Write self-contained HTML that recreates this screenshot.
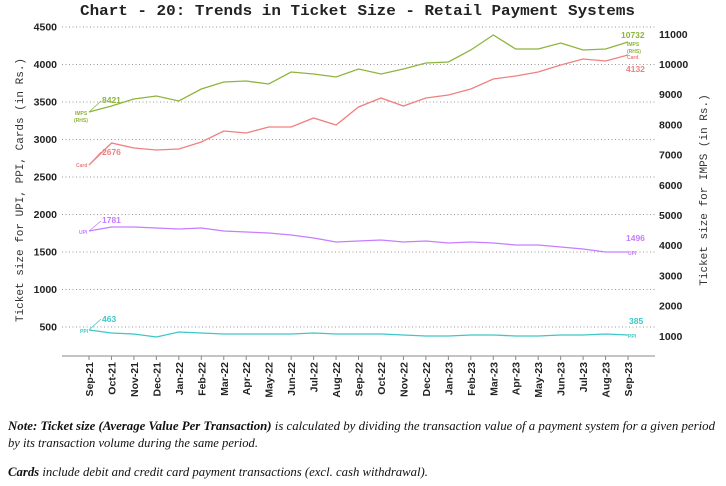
<!DOCTYPE html>
<html><head><meta charset="utf-8"><style>
body{margin:0;background:#fff;width:726px;height:486px;overflow:hidden}
svg{display:block}
.tk{font-family:"Liberation Sans",sans-serif;font-weight:bold;font-size:10.5px;fill:#222}
.mono{font-family:"Liberation Mono",monospace;font-size:11px;fill:#333}
.note{font-family:"Liberation Serif",serif;font-style:italic;font-size:12.5px;fill:#111}
</style></head><body>
<svg id="s" width="726" height="486" xmlns="http://www.w3.org/2000/svg">
<text x="80" y="15" font-family="Liberation Mono,monospace" font-weight="bold" font-size="15" fill="#222" textLength="555" lengthAdjust="spacingAndGlyphs">Chart - 20: Trends in Ticket Size - Retail Payment Systems</text>
<g id="g"></g>
<text transform="translate(23,190) rotate(-90)" text-anchor="middle" class="mono">Ticket size for UPI, PPI, Cards (in Rs.)</text>
<text transform="translate(707,190) rotate(-90)" text-anchor="middle" class="mono">Ticket size for IMPS (in Rs.)</text>
<text x="8" y="430" class="note" textLength="707" lengthAdjust="spacingAndGlyphs"><tspan font-weight="bold">Note: Ticket size (Average Value Per Transaction)</tspan> is calculated by dividing the transaction value of a payment system for a given period</text>
<text x="8" y="447" class="note" textLength="250" lengthAdjust="spacingAndGlyphs">by its transaction volume during the same period.</text>
<text x="8" y="476" class="note" textLength="420" lengthAdjust="spacingAndGlyphs"><tspan font-weight="bold">Cards</tspan> include debit and credit card payment transactions (excl. cash withdrawal).</text>
</svg>
<script>
var g=document.getElementById('g'),h='';
function X(i){return 89+i*22.46}
function L(v){return 27+(4500-v)/500*37.5}
for(var v=500;v<=4500;v+=500){var y=L(v);h+='<line x1="62" x2="655" y1="'+y+'" y2="'+y+'" stroke="#999" stroke-dasharray="1,2.5" stroke-width="1"/>';h+='<text class="tk" x="57" y="'+(y+3.5)+'" text-anchor="end">'+v+'</text>';}
for(var r=1000;r<=11000;r+=1000){var y=64.5+(10000-r)*0.0302;h+='<text class="tk" x="659" y="'+(y+3.5)+'">'+r+'</text>';}
h+='<line x1="62" x2="655" y1="356" y2="356" stroke="#888"/>';
var m=['Sep','Oct','Nov','Dec','Jan','Feb','Mar','Apr','May','Jun','Jul','Aug'];
for(var i=0;i<25;i++){var x=X(i);var mo=m[i%12];var yr=21+Math.floor((i+8)/12);h+='<line x1="'+x+'" x2="'+x+'" y1="356" y2="360" stroke="#888"/>';h+='<text class="tk" transform="translate('+(x+4)+',362) rotate(-90)" text-anchor="end">'+mo+'-'+yr+'</text>';}
function P(a,c){var p=a.map(function(y,i){return X(i).toFixed(1)+','+y}).join(' ');h+='<polyline points="'+p+'" fill="none" stroke="'+c+'" stroke-width="1.3"/>';}
P([112,106,99,96,101,89,82,81,84,72,74,77,69,74,69,63,62,50,35,49,49,43,50,49,42],'#8db53c');
P([165,143,148,150,149,142,131,133,127,127,118,125,107,98,106,98,95,89,79,76,72,65,59,61,55],'#f08080');
P([231,227,227,228,229,228,231,232,233,235,238,242,241,240,242,241,243,242,243,245,245,247,249,252,252],'#c77dff');
P([330,333,334,337,332,333,334,334,334,334,333,334,334,334,335,336,336,335,335,336,336,335,335,334,335],'#3cc8c8');
function lab(x,y,t,c,s){h+='<text x="'+x+'" y="'+y+'" font-family="Liberation Sans,sans-serif" font-weight="bold" font-size="'+s+'" fill="'+c+'">'+t+'</text>';}
h+='<line x1="89" y1="112" x2="101" y2="101" stroke="#8db53c" stroke-width="0.8"/>';
lab(102,103,'8421','#8db53c',8.5);lab(75,115,'IMPS','#8db53c',5);lab(74,122,'(RHS)','#8db53c',5);
h+='<line x1="89" y1="165" x2="101" y2="152" stroke="#f08080" stroke-width="0.8"/>';
lab(102,155,'2676','#f08080',8.5);lab(76,167,'Card','#f08080',5);
h+='<line x1="89" y1="231" x2="101" y2="221" stroke="#c77dff" stroke-width="0.8"/>';
lab(102,223,'1781','#c77dff',8.5);lab(79,234,'UPI','#c77dff',5);
h+='<line x1="89" y1="330" x2="101" y2="319" stroke="#3cc8c8" stroke-width="0.8"/>';
lab(102,322,'463','#3cc8c8',8.5);lab(80,333,'PPI','#3cc8c8',5);
lab(621,38,'10732','#8db53c',8.5);lab(627,46,'IMPS','#8db53c',5);lab(627,53,'(RHS)','#8db53c',5);
lab(627,59,'Card','#f08080',5);lab(626,72,'4132','#f08080',8.5);
lab(626,241,'1496','#c77dff',8.5);lab(628,255,'UPI','#c77dff',5);
lab(629,324,'385','#3cc8c8',8.5);lab(628,338,'PPI','#3cc8c8',5);
g.innerHTML=h;
</script>
</body></html>
